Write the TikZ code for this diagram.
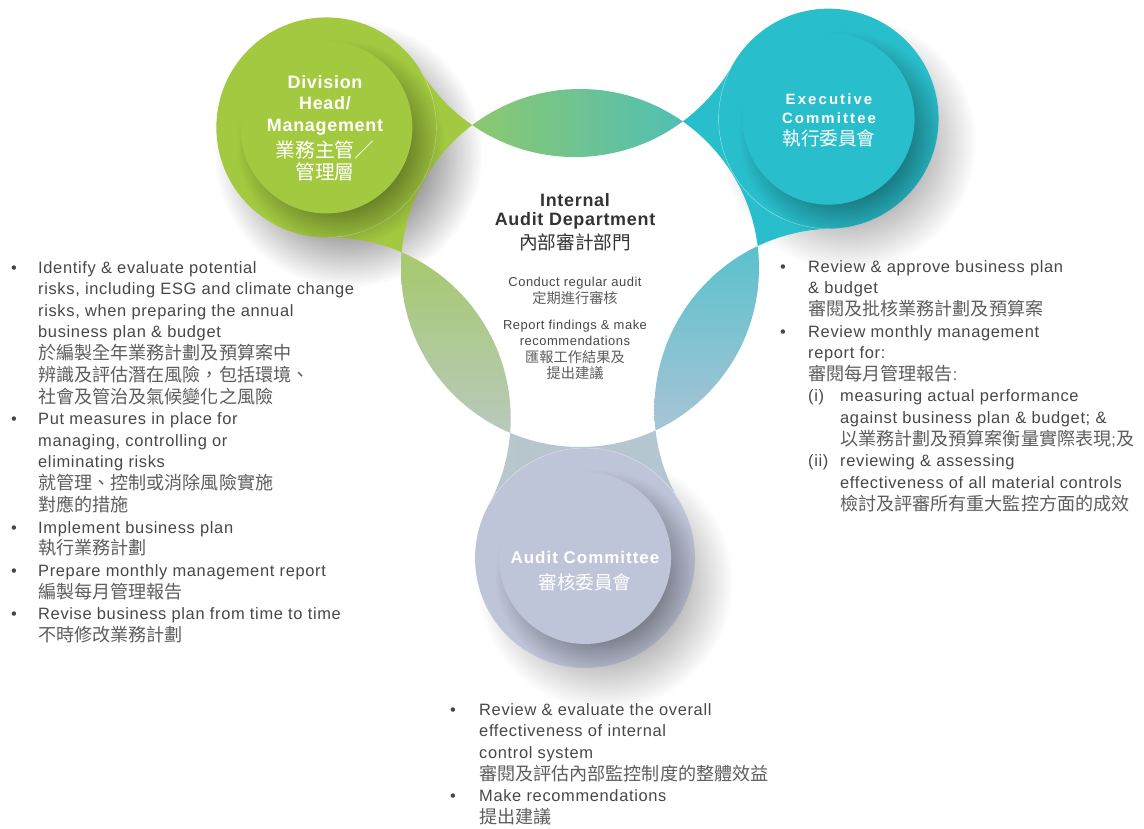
\documentclass[tikz,border=0pt]{standalone}
\usepackage{fontspec}
\setmainfont{Liberation Sans}[LetterSpace=4]
\newfontfamily\cjk{Noto Sans CJK TC}[Scale=1.1]
\usetikzlibrary{calc,fadings}

\definecolor{dhgreen}{HTML}{A3C940}
\definecolor{exteal}{HTML}{29BECB}
\definecolor{aclav}{HTML}{BFC5D8}
\definecolor{bodygrey}{HTML}{474747}
\definecolor{zhgrey}{HTML}{5E5E5E}
\definecolor{headgrey}{HTML}{333333}
\definecolor{lensTl}{HTML}{8CC86F}
\definecolor{lensTr}{HTML}{4FBFB6}
\definecolor{lensLt}{HTML}{A6C96B}
\definecolor{lensLb}{HTML}{B9C9BE}
\definecolor{lensRt}{HTML}{5AC1CC}
\definecolor{lensRb}{HTML}{AAC4D6}

\pgfdeclareradialshading{softshade}{\pgfpointorigin}{color(0bp)=(white); color(10bp)=(white); color(25bp)=(black); color(50bp)=(black)}
\pgfdeclarefading{softedge}{\pgfuseshading{softshade}}

\newcommand\zh[1]{{\cjk\color{zhgrey}#1}}
\newcommand\full[1]{\multicolumn{2}{@{}l@{}}{#1}}
% halo round a node, between two gap circles
\newcommand\halo[5]{%
  \begin{scope}[even odd rule]
    \clip (-10,10) rectangle (1160,-840) (C) circle (179);
    \clip (-10,10) rectangle (1160,-840) (#2) circle (181);
    \clip (-10,10) rectangle (1160,-840) (#3) circle (181);
    \path[#4] (C) -- (#2) -- (#1) -- (#3) -- cycle;
    \fill[#5] (#1) circle (110);
    \clip (C) -- (#2) -- (#1) -- (#3) -- cycle;
    \draw[white, opacity=.55, line width=.4pt] (#1) circle (110);
    \clip (-10,10) rectangle (1160,-840) (#1) circle (110);
    \fill[shadowblob=.5] ($(#1)+(14,-16)$) circle (104);
  \end{scope}}
% inner circle of a node
\newcommand\bubble[2]{%
  \begin{scope}
    \clip (#1) circle (110);
    \fill[shadowblob=.55] ($(#1)+(14,-16)$) circle (104);
  \end{scope}
  \fill[#2] (#1) circle (86);}

\begin{document}
\begin{tikzpicture}[x=1bp, y=1bp,
    shadowblob/.style={black, opacity=#1, path fading=softedge},
    nodelabel/.style={text=white, align=center, inner sep=0pt, font=\bfseries\fontsize{18}{21.5}\selectfont},
    listtext/.style={text=bodygrey, inner sep=0pt, font=\fontsize{16.5}{21.6}\selectfont}]
  \useasboundingbox (0,0) rectangle (1144,-829);
  \fill[white] (0,0) rectangle (1144,-829);

  \coordinate (C) at (580,-268);
  \coordinate (dh) at ($(C)+(151:290)$);
  \coordinate (ex) at ($(C)+(31:290)$);
  \coordinate (ac) at ($(C)+(271:290)$);
  \coordinate (gapT) at ($(C)+(91:292)$);
  \coordinate (gapL) at ($(C)+(211:292)$);
  \coordinate (gapR) at ($(C)+(331:292)$);

  % shadows on the paper
  \fill[shadowblob=.55] ($(dh)+(22,-26)$) circle (134);
  \fill[shadowblob=.4] ($(ex)+(20,-24)$) circle (128);
  \fill[shadowblob=.4] ($(ac)+(20,-24)$) circle (128);

  \halo{dh}{gapT}{gapL}{fill=dhgreen}{dhgreen}
  \halo{ex}{gapT}{gapR}{fill=exteal}{exteal}
  \halo{ac}{gapL}{gapR}{left color=lensLb!70!aclav, right color=lensRb!70!aclav}{aclav}

  \bubble{dh}{dhgreen}
  \bubble{ex}{exteal}
  \bubble{ac}{aclav}

  % lenses between the nodes
  \begin{scope}
    \clip (C) circle (179);
    \clip (gapT) circle (181);
    \shade[left color=lensTl, right color=lensTr] (472,-85) rectangle (688,-160);
  \end{scope}
  \begin{scope}
    \clip (C) circle (179);
    \clip (gapL) circle (181);
    \shade[top color=lensLt, bottom color=lensLb] (398,-248) rectangle (514,-436);
  \end{scope}
  \begin{scope}
    \clip (C) circle (179);
    \clip (gapR) circle (181);
    \shade[top color=lensRt, bottom color=lensRb] (652,-244) rectangle (762,-436);
  \end{scope}

  \node[nodelabel] (dhlabel) at (325,-128) {Division\\Head/\\Management\\[5bp]{\cjk\mdseries 業務主管／}\\{\cjk\mdseries 管理層}};
  \node[nodelabel, font=\bfseries\fontsize{15}{19}\selectfont\addfontfeature{LetterSpace=14}] (exlabel) at (829,-120) {Executive\\Committee\\[3bp]{\cjk\mdseries\fontsize{17}{19}\selectfont 執行委員會}};
  \node[nodelabel, font=\bfseries\fontsize{17}{21}\selectfont\addfontfeature{LetterSpace=6}] (aclabel) at (585,-571) {Audit Committee\\[5bp]{\cjk\mdseries 審核委員會}};

  \node[text=headgrey, align=center, inner sep=0pt, anchor=north, font=\bfseries\fontsize{18}{19.5}\selectfont] (iatitle) at (575,-193) {Internal\\Audit Department\\[3bp]{\cjk\mdseries\fontsize{17}{19.5}\selectfont 內部審計部門}};
  \node[text=bodygrey, align=center, inner sep=0pt, anchor=north, font=\fontsize{13}{16.5}\selectfont] (iabody) at (575,-277) {Conduct regular audit\\\zh{定期進行審核}\\[10bp]Report findings \& make\\recommendations\\\zh{匯報工作結果及}\\\zh{提出建議}};

  \node[listtext, anchor=north west] (dhlist) at (11,-258) {\begin{tabular}{@{}p{27bp}@{}l@{}}
    \textbullet & Identify \& evaluate potential\\
     & risks, including ESG and climate change\\
     & risks, when preparing the annual\\
     & business plan \& budget\\
     & \zh{於編製全年業務計劃及預算案中}\\
     & \zh{辨識及評估潛在風險，包括環境、}\\
     & \zh{社會及管治及氣候變化之風險}\\
    \textbullet & Put measures in place for\\
     & managing, controlling or\\
     & eliminating risks\\
     & \zh{就管理、控制或消除風險實施}\\
     & \zh{對應的措施}\\
    \textbullet & Implement business plan\\
     & \zh{執行業務計劃}\\
    \textbullet & Prepare monthly management report\\
     & \zh{編製每月管理報告}\\
    \textbullet & Revise business plan from time to time\\
     & \zh{不時修改業務計劃}
  \end{tabular}};

  \node[listtext, anchor=north west] (exlist) at (780,-257) {\begin{tabular}{@{}p{28bp}@{}p{32bp}@{}l@{}}
    \textbullet & \full{Review \& approve business plan}\\
     & \full{\& budget}\\
     & \full{\zh{審閱及批核業務計劃及預算案}}\\
    \textbullet & \full{Review monthly management}\\
     & \full{report for:}\\
     & \full{\zh{審閱每月管理報告}\textcolor{zhgrey}{:}}\\
     & (i) & measuring actual performance\\
     & & against business plan \& budget; \&\\
     & & \zh{以業務計劃及預算案衡量實際表現}\textcolor{zhgrey}{;}\zh{及}\\
     & (ii) & reviewing \& assessing\\
     & & effectiveness of all material controls\\
     & & \zh{檢討及評審所有重大監控方面的成效}
  \end{tabular}};

  \node[listtext, anchor=north west] (aclist) at (450,-700) {\begin{tabular}{@{}p{29bp}@{}l@{}}
    \textbullet & Review \& evaluate the overall\\
     & effectiveness of internal\\
     & control system\\
     & \zh{審閱及評估內部監控制度的整體效益}\\
    \textbullet & Make recommendations\\
     & \zh{提出建議}
  \end{tabular}};
\end{tikzpicture}
\end{document}
